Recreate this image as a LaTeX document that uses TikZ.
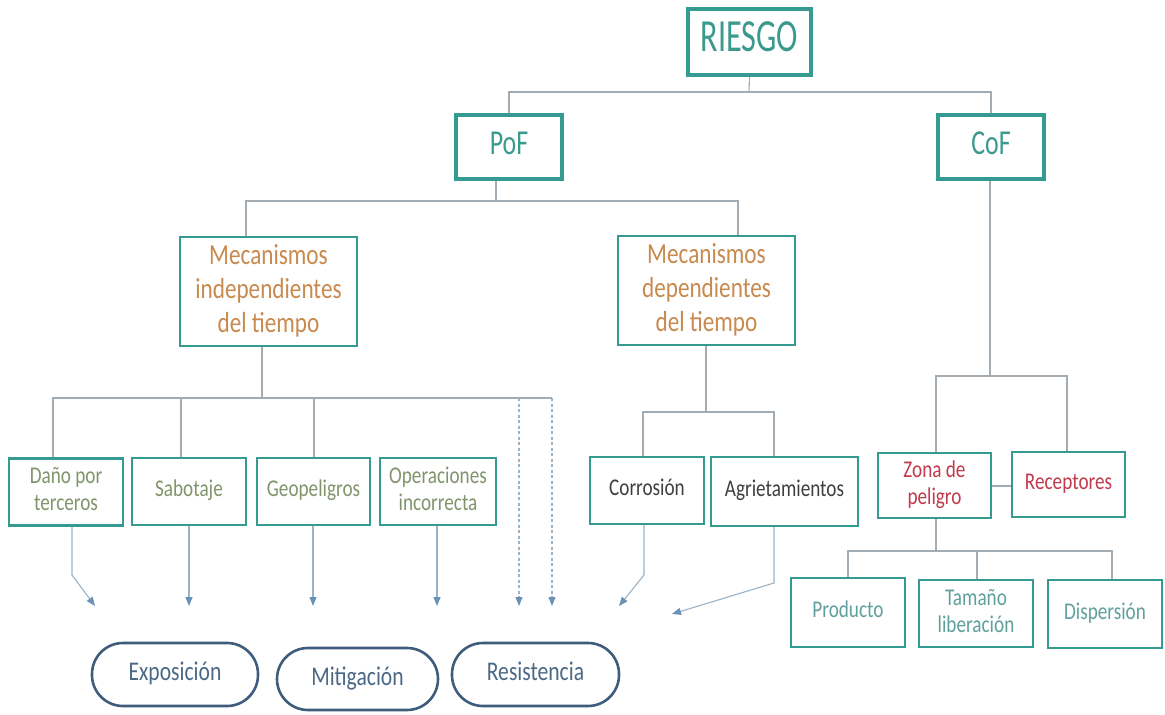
\documentclass[tikz,border=0pt]{standalone}
\usepackage{fontspec}
\setmainfont{Carlito}
\usepackage{graphicx}
\usetikzlibrary{arrows.meta}

% narrow, centred multi-line label (optional horizontal squeeze)
\newcommand\boxtext[2][0.8]{\scalebox{#1}[1]{\begin{tabular}{@{}c@{}}#2\end{tabular}}}

\definecolor{boxteal}{HTML}{359A8F}
\definecolor{topteal}{HTML}{3B9A8E}
\definecolor{mechbrown}{HTML}{C88A4E}
\definecolor{olivetext}{HTML}{82946B}
\definecolor{darktext}{HTML}{3F3F3F}
\definecolor{redtext}{HTML}{C23A4C}
\definecolor{softteal}{HTML}{5FA09D}
\definecolor{pillblue}{HTML}{3E5C7C}
\definecolor{pilltext}{HTML}{4B6987}
\definecolor{conngray}{HTML}{A3ACB3}
\definecolor{flowline}{HTML}{9AB3C8}
\definecolor{flowhead}{HTML}{6A91B6}

\begin{document}
\begin{tikzpicture}[x=1pt,y=-1pt,
  box/.style={draw=boxteal, rectangle, inner sep=0pt, line width=2.2pt, fill=white},
  topbox/.style={box, line width=3.6pt, text=topteal},
  mechbox/.style={box, line width=2.4pt, text=mechbrown,
    minimum width=177pt, minimum height=109pt, font=\fontsize{29}{34}\selectfont},
  small/.style={box, minimum width=114pt, minimum height=67pt,
    font=\fontsize{24}{27}\selectfont},
  pill/.style={draw=pillblue, rectangle, rounded corners=31pt, inner sep=0pt,
    line width=2.6pt, text=pilltext, font=\fontsize{27}{30}\selectfont},
  conn/.style={draw=conngray, line width=1.1pt},
  flow/.style={draw=flowline, line width=1.1pt,
    -{Triangle[length=9pt,width=7pt,color=flowhead]}},
  dflow/.style={flow, dash pattern=on 3pt off 2.5pt}
]
\useasboundingbox[fill=white] (0,0) rectangle (1165,715);

% ---- top levels
\node[topbox, line width=4pt, minimum width=123pt, minimum height=66pt,
      font=\fontsize{46}{48}\selectfont] (riesgo) at (749.5,41.5) {\boxtext[0.7]{RIESGO}};
\node[topbox, minimum width=106pt, minimum height=64pt,
      font=\fontsize{35}{38}\selectfont] (pof) at (509,147) {\boxtext[0.74]{PoF}};
\node[topbox, minimum width=106pt, minimum height=64pt,
      font=\fontsize{35}{38}\selectfont] (cof) at (991,147) {\boxtext[0.74]{CoF}};

% ---- mechanisms
\node[mechbox] (mi) at (268.5,291.5) {\boxtext{Mecanismos\\independientes\\del tiempo}};
\node[mechbox] (md) at (706.5,290.5) {\boxtext{Mecanismos\\dependientes\\del tiempo}};

% ---- time-independent threats
\node[small, text=olivetext] (dano) at (66,492)    {\boxtext{Daño por\\terceros}};
\node[small, text=olivetext] (sab)  at (189,491.5) {\boxtext{Sabotaje}};
\node[small, text=olivetext, minimum width=113pt] (geo) at (313.5,491.5) {\boxtext{Geopeligros}};
\node[small, text=olivetext, minimum width=116pt] (ope) at (438,491.5) {\boxtext{Operaciones\\incorrecta}};

% ---- time-dependent threats
\node[small, text=darktext] (cor) at (647,490.5) {\boxtext{Corrosión}};
\node[small, text=darktext, minimum width=147pt, minimum height=69pt] (agr) at (784.5,491.5) {\boxtext{Agrietamientos}};

% ---- consequence side
\node[small, text=redtext, minimum width=113pt, minimum height=65pt] (zona) at (934.5,485.5) {\boxtext{Zona de\\peligro}};
\node[small, text=redtext, minimum width=113pt, minimum height=65pt] (rec)  at (1068.5,484.5) {\boxtext{Receptores}};
\node[small, text=softteal, minimum height=69pt] (prod) at (848,612.5)  {\boxtext{Producto}};
\node[small, text=softteal] (tam)  at (976,613.5)  {\boxtext{Tamaño\\liberación}};
\node[small, text=softteal, minimum height=68pt] (disp) at (1105,614) {\boxtext{Dispersión}};

% ---- factor pills
\node[pill, minimum width=166pt, minimum height=63pt] (expo) at (175,674.5)   {\boxtext{Exposición}};
\node[pill, minimum width=161pt, minimum height=62pt] (miti) at (357.5,679)   {\boxtext{Mitigación}};
\node[pill, minimum width=167pt, minimum height=63pt] (resi) at (535.5,674.5) {\boxtext{Resistencia}};

% ---- tree connectors
\coordinate (t1) at (749,92);
\draw[conn] (riesgo.south) -- (t1);
\draw[conn] (pof.north) |- (t1) -| (cof.north);

\coordinate (t2)  at (496,201);
\coordinate (t2l) at (246,201);
\coordinate (t2r) at (738,201);
\draw[conn] (pof.south -| t2) -- (t2);
\draw[conn] (mi.north -| t2l) |- (t2r) -- (md.north -| t2r);

\coordinate (t3)  at (262,398);
\coordinate (t3l) at (53,398);
\coordinate (t3a) at (181,398);
\coordinate (t3b) at (314,398);
\coordinate (t3r) at (552,398);
\draw[conn] (mi.south -| t3) -- (t3);
\draw[conn] (dano.north -| t3l) |- (t3r);
\draw[conn] (t3a) -- (sab.north -| t3a);
\draw[conn] (t3b) -- (geo.north -| t3b);

\coordinate (t4)  at (706,412);
\coordinate (t4l) at (643,412);
\coordinate (t4r) at (774,412);
\draw[conn] (md.south -| t4) -- (t4);
\draw[conn] (cor.north -| t4l) |- (t4r) -- (agr.north -| t4r);

\coordinate (t5)  at (990,376);
\coordinate (t5l) at (936,376);
\coordinate (t5r) at (1067,376);
\draw[conn] (cof.south -| t5) -- (t5);
\draw[conn] (zona.north -| t5l) |- (t5r) -- (rec.north -| t5r);
\coordinate (h5) at (0,486);
\draw[conn] (zona.east |- h5) -- (rec.west |- h5);

\coordinate (t6)  at (936,551);
\coordinate (t6l) at (848,551);
\coordinate (t6m) at (977,551);
\coordinate (t6r) at (1112,551);
\draw[conn] (zona.south -| t6) -- (t6);
\draw[conn] (prod.north -| t6l) |- (t6r) -- (disp.north -| t6r);
\draw[conn] (t6m) -- (tam.north -| t6m);

% ---- arrows towards the factors
\coordinate (k1) at (72,575);
\coordinate (e1) at (95,606);
\draw[flow] (dano.south -| k1) -- (k1) -- (e1);
\coordinate (e2) at (189,606);
\draw[flow] (sab.south -| e2) -- (e2);
\coordinate (e3) at (313,606);
\draw[flow] (geo.south -| e3) -- (e3);
\coordinate (e4) at (437,606);
\draw[flow] (ope.south -| e4) -- (e4);
\coordinate (d1s) at (519,398);
\coordinate (d1e) at (519,606);
\draw[dflow] (d1s) -- (d1e);
\coordinate (d2e) at (552,606);
\draw[dflow] (t3r) -- (d2e);
\coordinate (k5) at (644,575);
\coordinate (e5) at (619,606);
\draw[flow] (cor.south -| k5) -- (k5) -- (e5);
\coordinate (k6) at (774,583);
\coordinate (e6) at (672,614);
\draw[flow] (agr.south -| k6) -- (k6) -- (e6);
\end{tikzpicture}
\end{document}
